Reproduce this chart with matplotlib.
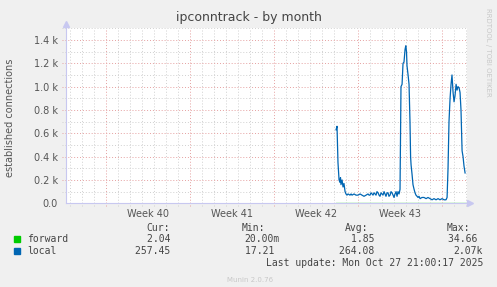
import matplotlib
matplotlib.use("Agg")
import matplotlib.pyplot as plt

# days counted from the start of week 40 (Mon Sep 29)
local_days = [19.17, 19.25, 19.33, 19.42, 19.50, 19.54, 19.58, 19.67, 19.75, 19.83,
              19.92, 20.00, 20.08, 20.17, 20.33, 20.42, 20.50, 20.67, 20.83, 21.00,
              21.17, 21.33, 21.50, 21.67, 21.83, 21.92, 22.00, 22.08, 22.17, 22.25,
              22.33, 22.42, 22.50, 22.58, 22.67, 22.75, 22.83, 22.92, 23.00, 23.08,
              23.17, 23.25, 23.33, 23.42, 23.50, 23.58, 23.67, 23.75, 23.83, 23.92,
              24.00, 24.08, 24.17, 24.25, 24.33, 24.42, 24.50, 24.58, 24.67, 24.75,
              24.83, 24.92, 24.98, 25.04, 25.08, 25.17, 25.25, 25.33, 25.38, 25.42,
              25.50, 25.58, 25.67, 25.75, 25.83, 25.92, 26.00, 26.08, 26.17, 26.33,
              26.50, 26.67, 26.83, 27.00, 27.17, 27.33, 27.50, 27.67, 27.83, 28.00,
              28.17, 28.33, 28.42, 28.50, 28.58, 28.67, 28.75, 28.83, 28.92, 29.00,
              29.08, 29.17, 29.25, 29.33, 29.42, 29.50, 29.58, 29.67, 29.75, 29.83,
              29.92]
local_vals = [0.63, 0.66, 0.35, 0.20, 0.18, 0.22, 0.16, 0.20, 0.14, 0.17,
              0.10, 0.08, 0.07, 0.08, 0.07, 0.08, 0.07, 0.08, 0.07, 0.07,
              0.08, 0.07, 0.06, 0.07, 0.08, 0.07, 0.07, 0.09, 0.08, 0.07,
              0.09, 0.08, 0.07, 0.10, 0.09, 0.07, 0.06, 0.09, 0.08, 0.07,
              0.10, 0.08, 0.06, 0.09, 0.09, 0.06, 0.07, 0.10, 0.09, 0.07,
              0.05, 0.08, 0.10, 0.06, 0.10, 0.08, 0.12, 1.00, 1.02, 1.20,
              1.21, 1.32, 1.35, 1.30, 1.18, 1.10, 1.02, 0.70, 0.40, 0.33,
              0.25, 0.16, 0.12, 0.09, 0.07, 0.06, 0.05, 0.06, 0.04, 0.05,
              0.05, 0.04, 0.05, 0.04, 0.03, 0.04, 0.03, 0.04, 0.03, 0.04,
              0.03, 0.03, 0.05, 0.30, 0.70, 0.90, 1.02, 1.10, 0.95, 0.87,
              0.92, 1.02, 0.97, 1.00, 0.99, 0.95, 0.80, 0.45, 0.40, 0.32,
              0.26]
forward_days = [19.17, 22.00, 25.00, 28.00, 29.92]
forward_vals = [0.002, 0.002, 0.002, 0.002, 0.002]

week_labels = ["Week 40", "Week 41", "Week 42", "Week 43"]
legend_names = ["forward", "local"]
legend_colors = ["#00CC00", "#0066B3"]
cur = ["2.04 ", "257.45 "]
vmin = ["20.00m", "17.21 "]
avg = ["1.85 ", "264.08 "]
vmax = ["34.66 ", "2.07k"]

W, H = 497, 287
fig = plt.figure(figsize=(W / 100, H / 100), dpi=100, facecolor="#F0F0F0")
ax = fig.add_axes([66 / W, (H - 203.3) / H, 401 / W, 175 / H], facecolor="white")
x0, x1 = -3.33, 30.08
ax.set_xlim(x0, x1)
ax.set_ylim(0, 1.5)

# grid: minor grey, major red, dotted; lines poke a little outside the axes as ticks
red, grey = "#E5A0A0", "#D0D0D0"
dot = (0, (1, 2))
for d in range(-3, 31):
    ax.plot([d, d], [-0.02, 1.5], color=red if d % 7 == 0 else grey, lw=0.7, ls=dot,
            clip_on=False, zorder=1)
for i in range(1, 16):
    y = i / 10
    c = red if i % 2 == 0 and i < 15 else grey
    ax.plot([x0 - 0.3, x1], [y, y], color=c, lw=0.7, ls=dot, clip_on=False, zorder=1)

ax.plot(forward_days, forward_vals, color=legend_colors[0], lw=0.9, zorder=3)
ax.plot(local_days, local_vals, color=legend_colors[1], lw=0.9, zorder=4)

for s in ax.spines.values():
    s.set_visible(False)
axis_col = "#C8C8F0"
ax.plot([x0, x1], [0, 0], color=axis_col, lw=0.8, clip_on=False, zorder=2)
ax.plot([x0, x0], [0, 1.5], color=axis_col, lw=0.8, clip_on=False, zorder=2)
ax.plot([30.35], [0], marker=">", ms=4, color=axis_col, clip_on=False)
ax.plot([x0], [1.54], marker="^", ms=4, color=axis_col, clip_on=False)

ax.set_yticks([0, 0.2, 0.4, 0.6, 0.8, 1.0, 1.2, 1.4])
ax.set_yticklabels(["0.0", "0.2 k", "0.4 k", "0.6 k", "0.8 k", "1.0 k", "1.2 k", "1.4 k"])
ax.set_xticks([3.5, 10.5, 17.5, 24.5])
ax.set_xticklabels(week_labels)
ax.tick_params(axis="x", length=0, pad=4, labelsize=7, labelcolor="#555555")
ax.tick_params(axis="y", length=0, pad=6, labelsize=7, labelcolor="#555555")

fig.text(0.5, 1 - 18 / H, "ipconntrack - by month", ha="center", va="center",
         fontsize=9, color="#444444")
fig.text(10 / W, 1 - 118 / H, "established connections", rotation=90, ha="center",
         va="center", fontsize=7, color="#555555")
fig.text(488 / W, 1 - 8 / H, "RRDTOOL / TOBI OETIKER", rotation=270, ha="center",
         va="top", fontsize=5, color="#C8C8C8")

mono = dict(family="DejaVu Sans Mono", fontsize=7, color="#444444", va="center")
fig.text(170 / W, 1 - 228 / H, "Cur:", ha="right", **mono)
fig.text(265 / W, 1 - 228 / H, "Min:", ha="right", **mono)
fig.text(368 / W, 1 - 228 / H, "Avg:", ha="right", **mono)
fig.text(470 / W, 1 - 228 / H, "Max:", ha="right", **mono)
for i, name in enumerate(legend_names):
    y = 1 - (239 + 12 * i) / H
    fig.patches.append(plt.Rectangle((14 / W, y - 3 / H), 6 / W, 6 / H,
                                     transform=fig.transFigure, color=legend_colors[i]))
    fig.text(27 / W, y, name, ha="left", **mono)
    fig.text(176 / W, y, cur[i], ha="right", **mono)
    fig.text(280 / W, y, vmin[i], ha="right", **mono)
    fig.text(380 / W, y, avg[i], ha="right", **mono)
    fig.text(483 / W, y, vmax[i], ha="right", **mono)
fig.text(483 / W, 1 - 263 / H, "Last update: Mon Oct 27 21:00:17 2025", ha="right", **mono)
fig.text(250 / W, 1 - 280 / H, "Munin 2.0.76", ha="center", va="center",
         fontsize=5, color="#C8C8C8")

fig.savefig("out.png", dpi=100, facecolor=fig.get_facecolor())
